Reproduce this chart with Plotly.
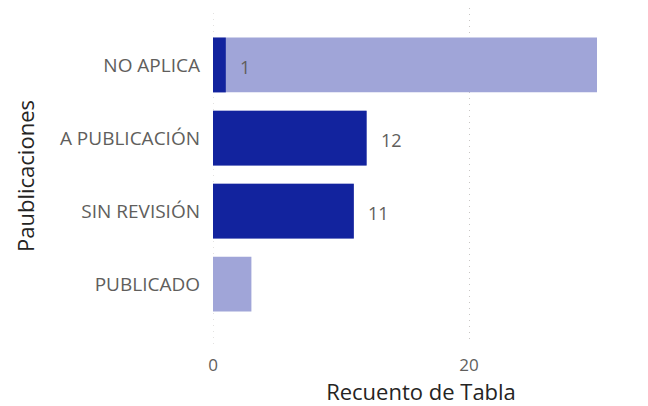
import plotly.graph_objects as go

categories = ["NO APLICA", "A PUBLICACIÓN", "SIN REVISIÓN", "PUBLICADO"]
total_values = [30, 12, 11, 3]
highlight_values = [1, 12, 11, 0]
x_tick_values = [0, 20]
x_tick_labels = ["0", "20"]

FONT = "Open Sans"
GRID = "#C8C6C4"
fig = go.Figure()
fig.add_vline(x=0, line=dict(color=GRID, width=1, dash="1px,5px"), layer="below")
fig.add_trace(go.Bar(
    y=categories, x=total_values, orientation="h",
    marker=dict(color="#A0A5D8", line=dict(width=0)),
    width=0.75, hoverinfo="skip", showlegend=False,
))
fig.add_trace(go.Bar(
    y=categories, x=highlight_values, orientation="h",
    marker=dict(color="#12239E", line=dict(width=0)),
    width=0.75, showlegend=False,
))
for c, v in zip(categories, highlight_values):
    if v:
        fig.add_annotation(
            x=v, y=c, text=str(v), showarrow=False,
            xanchor="left", xshift=12, yshift=-2,
            font=dict(family=FONT, size=18, color="#605E5C"),
        )

# page body has an 8px default margin, so the figure is 8px smaller and offset
fig.update_layout(
    width=640, height=398,
    margin=dict(l=205, r=19, t=0, b=62),
    barmode="overlay",
    plot_bgcolor="white", paper_bgcolor="white",
    font=dict(family=FONT),
)
fig.update_xaxes(
    range=[0, 32.5], tickvals=x_tick_values, ticktext=x_tick_labels,
    showgrid=True, gridcolor=GRID, griddash="1px,5px", gridwidth=1,
    zeroline=False, showline=False, automargin=False,
    tickfont=dict(family=FONT, size=17, color="#605E5C"),
    ticklabelstandoff=9,
    title=dict(text="Recuento de Tabla", standoff=20,
               font=dict(family=FONT, size=22, color="#252423")),
)
fig.update_yaxes(
    categoryorder="array", categoryarray=categories,
    range=[3.82, -0.78],
    showgrid=False, zeroline=False, showline=False, automargin=False,
    tickfont=dict(family=FONT, size=19, color="#605E5C"),
    ticklabelstandoff=12,
    title=dict(text="Paublicaciones", standoff=19,
               font=dict(family=FONT, size=22, color="#252423")),
)
fig.write_html("out.html")
